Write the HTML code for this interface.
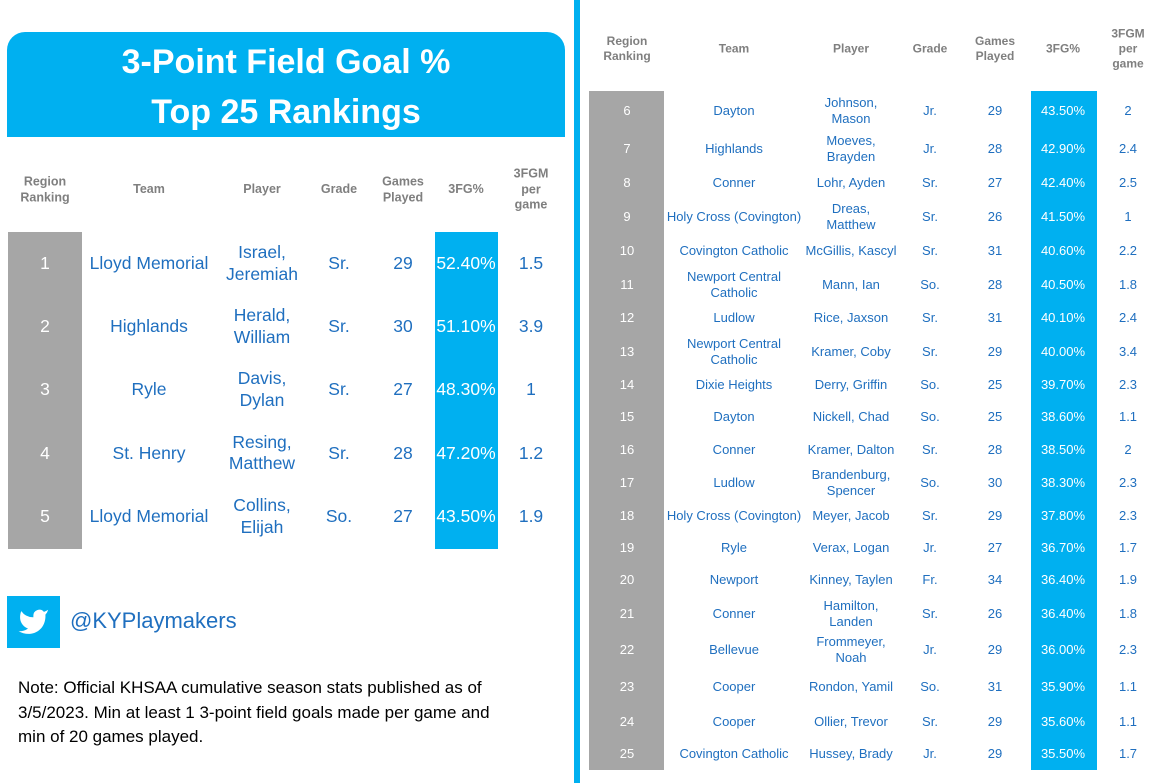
<!DOCTYPE html>
<html><head><meta charset="utf-8"><style>
body{margin:0;width:1168px;height:783px;background:#fff;position:relative;overflow:hidden;font-family:"Liberation Sans",sans-serif}
.a{position:absolute}
.c{position:absolute;transform:translate(-50%,-50%);text-align:center;line-height:1.25;white-space:nowrap}
.h{color:#7f7f7f;font-weight:bold;font-size:12.5px}
.t{color:#1f6fbf}
</style></head><body>
<div class="a" style="left:7px;top:32px;width:558px;height:105px;background:#00b0f0;border-radius:18px 18px 0 0"></div>
<div class="c" style="left:286px;top:87px;color:#fff;font-weight:bold;font-size:34px;line-height:50px">3-Point Field Goal %<br>Top 25 Rankings</div>
<div class="a" style="left:574px;top:0;width:6px;height:783px;background:#00b0f0"></div>
<div class="a" style="left:8px;top:232px;width:74px;height:317px;background:#a6a6a6"></div>
<div class="a" style="left:435px;top:232px;width:63px;height:317px;background:#00b0f0"></div>
<div class="a" style="left:589px;top:91px;width:75px;height:679px;background:#a6a6a6"></div>
<div class="a" style="left:1031px;top:91px;width:66px;height:679px;background:#00b0f0"></div>
<div class="a" style="left:7px;top:596px;width:53px;height:52px;background:#00b0f0">
<svg width="53" height="52" viewBox="0 0 24 24"><path transform="translate(4.5 4.5) scale(0.62)" fill="#fff" d="M23 3a10.9 10.9 0 0 1-3.14 1.53 4.48 4.48 0 0 0-7.86 3v1A10.66 10.66 0 0 1 3 4s-4 9 5 13a11.64 11.64 0 0 1-7 2c9 5 20 0 20-11.5a4.5 4.5 0 0 0-.08-.83A7.72 7.72 0 0 0 23 3z"/></svg></div>
<div class="a t" style="left:70px;top:608px;font-size:22px">@KYPlaymakers</div>
<div class="a" style="left:18px;top:676px;font-size:17px;line-height:24.5px;color:#000;white-space:nowrap">Note: Official KHSAA cumulative season stats published as of<br>3/5/2023. Min at least 1 3-point field goals made per game and<br>min of 20 games played.</div>
<div id="root"></div>
<script>
const ranks=[1,2,3,4,5,6,7,8,9,10,11,12,13,14,15,16,17,18,19,20,21,22,23,24,25];
const teams=["Lloyd Memorial","Highlands","Ryle","St. Henry","Lloyd Memorial","Dayton","Highlands","Conner","Holy Cross (Covington)","Covington Catholic","Newport Central<br>Catholic","Ludlow","Newport Central<br>Catholic","Dixie Heights","Dayton","Conner","Ludlow","Holy Cross (Covington)","Ryle","Newport","Conner","Bellevue","Cooper","Cooper","Covington Catholic"];
const players=["Israel,<br>Jeremiah","Herald,<br>William","Davis,<br>Dylan","Resing,<br>Matthew","Collins,<br>Elijah","Johnson,<br>Mason","Moeves,<br>Brayden","Lohr, Ayden","Dreas,<br>Matthew","McGillis, Kascyl","Mann, Ian","Rice, Jaxson","Kramer, Coby","Derry, Griffin","Nickell, Chad","Kramer, Dalton","Brandenburg,<br>Spencer","Meyer, Jacob","Verax, Logan","Kinney, Taylen","Hamilton,<br>Landen","Frommeyer,<br>Noah","Rondon, Yamil","Ollier, Trevor","Hussey, Brady"];
const grades=["Sr.","Sr.","Sr.","Sr.","So.","Jr.","Jr.","Sr.","Sr.","Sr.","So.","Sr.","Sr.","So.","So.","Sr.","So.","Sr.","Jr.","Fr.","Sr.","Jr.","So.","Sr.","Jr."];
const games=[29,30,27,28,27,29,28,27,26,31,28,31,29,25,25,28,30,29,27,34,26,29,31,29,29];
const pcts=["52.40%","51.10%","48.30%","47.20%","43.50%","43.50%","42.90%","42.40%","41.50%","40.60%","40.50%","40.10%","40.00%","39.70%","38.60%","38.50%","38.30%","37.80%","36.70%","36.40%","36.40%","36.00%","35.90%","35.60%","35.50%"];
const perGame=["1.5","3.9","1","1.2","1.9","2","2.4","2.5","1","2.2","1.8","2.4","3.4","2.3","1.1","2","2.3","2.3","1.7","1.9","1.8","2.3","1.1","1.1","1.7"];
const headers=["Region<br>Ranking","Team","Player","Grade","Games<br>Played","3FG%","3FGM<br>per<br>game"];
const root=document.getElementById('root');
function cell(x,y,html,cls,size,color,name){
 const d=document.createElement('div');d.className='c '+cls;
 d.style.left=x+'px';d.style.top=y+'px';if(size)d.style.fontSize=size+'px';if(color)d.style.color=color;
 d.innerHTML=html;
 
 
 root.appendChild(d);}
const LX=[45,149,262,339,403,466,531], RX=[627,734,851,930,995,1063,1128];
const names=['rank','team','player','grade','games','pct','per-game'];
headers.forEach((h,i)=>{cell(LX[i],190,h,'h',12.5,null,'left-header-'+names[i]);cell(RX[i],49,h,'h',12,null,'right-header-'+names[i]);});
const rb=[91,131,166,200,234,268,301.5,335,369,401.5,433,466,499.5,532,564,596.5,631,668,705,738.5,770];
for(let i=0;i<25;i++){
 let X,y,fs;
 if(i<5){X=LX;y=264+i*63.2;fs=17.5;}else{X=RX;y=(rb[i-5]+rb[i-4])/2;fs=13;}
 const vals=[ranks[i],teams[i],players[i],grades[i],games[i],pcts[i],perGame[i]];
 vals.forEach((v,j)=>{
  const col=j==0||j==5?'#fff':'#1f6fbf';
  cell(X[j],y,v,'',fs,col,'row-'+ranks[i]+'-'+names[j]);
 });
}
</script>
</body></html>
